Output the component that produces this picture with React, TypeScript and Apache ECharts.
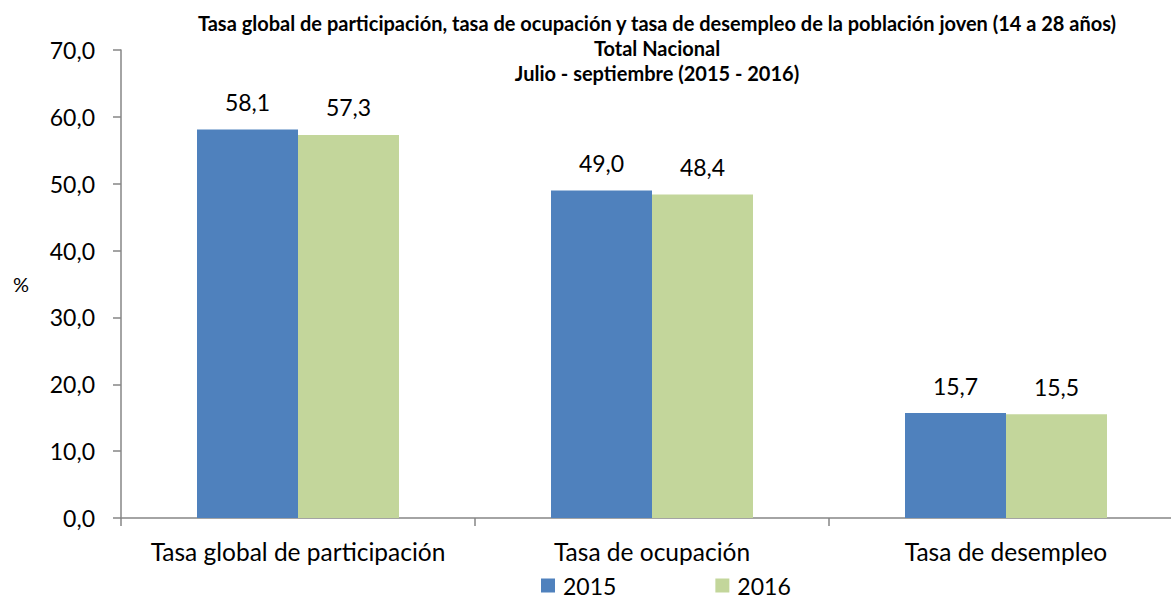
import React, { useEffect, useRef } from "react";
import * as echarts from "echarts";

const categories = ["Tasa global de participación", "Tasa de ocupación", "Tasa de desempleo"];
const series2015 = [58.1, 49.0, 15.7];
const series2016 = [57.3, 48.4, 15.5];
const seriesNames = ["2015", "2016"];
const titleLines = [
  "Tasa global de participación, tasa de ocupación y tasa de desempleo de la población joven (14 a 28 años)",
  "Total Nacional",
  "Julio - septiembre (2015 - 2016)",
];

const FONT = "Lato, 'Noto Sans', sans-serif";
const fmt = (v: number) => v.toFixed(1).replace(".", ",");

export default function App() {
  const ref = useRef<HTMLDivElement>(null);
  useEffect(() => {
    if (!ref.current) return;
    const chart = echarts.init(ref.current, undefined, { renderer: "svg" });
    const labelStyle = {
      show: true,
      position: "top" as const,
      distance: 16,
      fontFamily: FONT,
      fontSize: 23,
      color: "#000",
      formatter: (p: any) => fmt(p.value),
    };
    chart.setOption({
      animation: false,
      backgroundColor: "#fff",
      title: {
        text: titleLines.join("\n"),
        left: 652,
        textAlign: "center",
        top: 5,
        textStyle: {
          fontFamily: FONT,
          fontWeight: "bold",
          fontSize: 20,
          lineHeight: 25,
          color: "#000",
        },
      },
      legend: {
        top: 574,
        left: 541,
        padding: 0,
        itemWidth: 14,
        itemHeight: 14,
        itemGap: 99,
        icon: "rect",
        textStyle: { fontFamily: FONT, fontSize: 23, lineHeight: 23, color: "#000", padding: [0, 0, 0, 3] },
        data: seriesNames,
      },
      grid: { left: 121, right: 0, top: 50, bottom: 80, containLabel: false },
      xAxis: {
        type: "category",
        data: categories,
        axisLine: { lineStyle: { color: "#868686", width: 1.5 } },
        axisTick: { show: true, length: 8, lineStyle: { color: "#868686", width: 1.5 } },
        axisLabel: { interval: 0, fontFamily: FONT, fontSize: 24.5, color: "#000", margin: 21 },
      },
      yAxis: {
        type: "value",
        min: 0,
        max: 70,
        interval: 10,
        name: "%",
        nameLocation: "middle",
        nameRotate: 0,
        nameGap: 92,
        nameTextStyle: { fontFamily: FONT, fontSize: 20, color: "#000" },
        splitLine: { show: false },
        axisLine: { show: true, lineStyle: { color: "#868686", width: 1.5 } },
        axisTick: { show: true, length: 8, lineStyle: { color: "#868686", width: 1.5 } },
        axisLabel: {
          fontFamily: FONT,
          fontSize: 23,
          color: "#000",
          margin: 26,
          formatter: (v: number) => fmt(v),
        },
      },
      series: [
        {
          name: seriesNames[0],
          type: "bar",
          data: series2015,
          barWidth: 101,
          barGap: "0%",
          itemStyle: { color: "#4F81BD" },
          label: labelStyle,
        },
        {
          name: seriesNames[1],
          type: "bar",
          data: series2016,
          barWidth: 101,
          barGap: "0%",
          itemStyle: { color: "#C3D69B" },
          label: labelStyle,
        },
      ],
    });
    return () => chart.dispose();
  }, []);
  return (
    <div
      ref={ref}
      style={{ position: "fixed", left: 0, top: 0, width: 1183, height: 598 }}
    />
  );
}
